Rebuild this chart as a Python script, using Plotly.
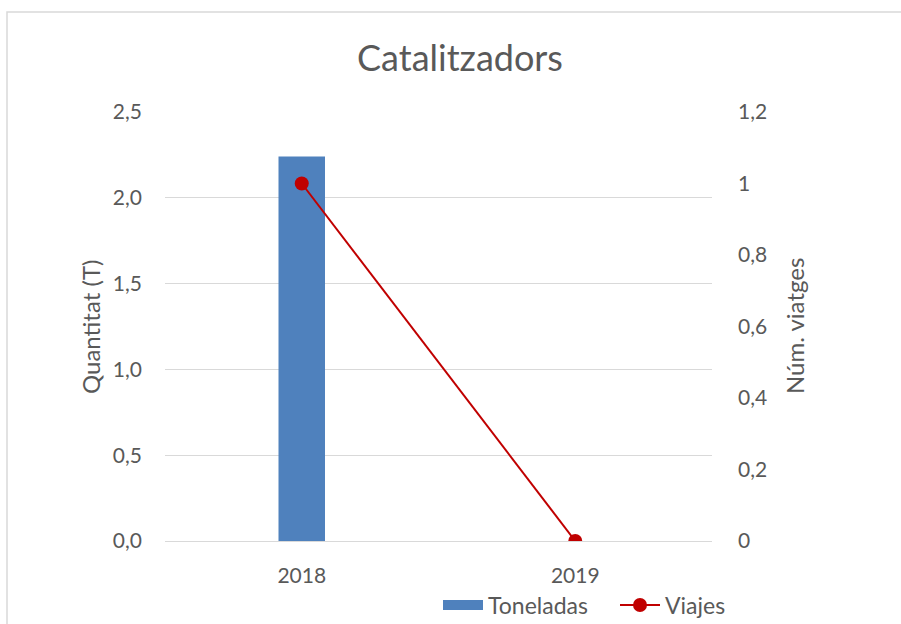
import plotly.graph_objects as go

# Chart data
years = ["2018", "2019"]
toneladas = [2.24, 0]
viajes = [1, 0]

left_ticks = [0, 0.5, 1.0, 1.5, 2.0, 2.5]
left_labels = ["0,0", "0,5", "1,0", "1,5", "2,0", "2,5"]
right_ticks = [0, 0.2, 0.4, 0.6, 0.8, 1.0, 1.2]
right_labels = ["0", "0,2", "0,4", "0,6", "0,8", "1", "1,2"]

FONT = "Lato, Calibri, 'Liberation Sans', sans-serif"
GREY = "#595959"
BLUE = "#4f81bd"
RED = "#c00000"

fig = go.Figure()
fig.add_trace(go.Bar(
    x=years, y=toneladas, name="Toneladas",
    marker=dict(color=BLUE, line=dict(width=0)),
    width=0.17, yaxis="y", showlegend=False,
))
# Legend proxy so the bar series shows a wide swatch
fig.add_trace(go.Scatter(
    x=[None], y=[None], name="Toneladas", mode="lines",
    line=dict(color=BLUE, width=13), yaxis="y",
))
fig.add_trace(go.Scatter(
    x=years, y=viajes, name="Viajes", mode="lines+markers",
    line=dict(color=RED, width=2),
    marker=dict(color=RED, size=14),
    yaxis="y2",
))

fig.update_layout(
    width=901, height=624,
    margin=dict(l=165, r=189, t=112, b=83),
    paper_bgcolor="white", plot_bgcolor="white",
    font=dict(family=FONT, color=GREY, size=21),
    title=dict(text="Catalitzadors", x=460 / 901, xanchor="center",
               y=1 - 58 / 624, yanchor="middle",
               font=dict(size=36, color=GREY, family=FONT)),
    showlegend=True,
    legend=dict(orientation="h", xref="container", yref="container",
                x=438 / 901, xanchor="left", y=1 - 605 / 624, yanchor="middle",
                font=dict(size=23, color=GREY), bgcolor="rgba(0,0,0,0)",
                itemwidth=40, entrywidth=122, traceorder="normal"),
    xaxis=dict(showgrid=False, showline=False, zeroline=False, ticks="",
               automargin=False,
               tickfont=dict(size=21, color=GREY), ticklabelstandoff=20),
    yaxis=dict(range=[0, 2.5], tickvals=left_ticks, ticktext=left_labels,
               showgrid=True, gridcolor="#d9d9d9", gridwidth=1,
               zeroline=True, zerolinecolor="#d9d9d9", zerolinewidth=1,
               showline=False, ticks="", ticklabelstandoff=22, automargin=False,
               tickfont=dict(size=21, color=GREY)),
    yaxis2=dict(range=[0, 1.2], tickvals=right_ticks, ticktext=right_labels,
                overlaying="y", side="right", showgrid=False, zeroline=False,
                showline=False, ticks="", ticklabelstandoff=25, automargin=False,
                tickfont=dict(size=21, color=GREY)),
    annotations=[
        dict(text="Quantitat (T)", xref="paper", yref="paper",
             x=(90 - 165) / 547, y=(541 - 327) / 429, textangle=-90,
             showarrow=False, xanchor="center", yanchor="middle",
             font=dict(size=24, color=GREY)),
        dict(text="Núm. viatges", xref="paper", yref="paper",
             x=(794 - 165) / 547, y=(541 - 326) / 429, textangle=-90,
             showarrow=False, xanchor="center", yanchor="middle",
             font=dict(size=24, color=GREY)),
    ],
    shapes=[
        dict(type="rect", xref="paper", yref="paper",
             x0=(7 - 165) / 547, x1=(960 - 165) / 547,
             y0=(541 - 680) / 429, y1=(541 - 12) / 429,
             line=dict(color="#d9d9d9", width=1.5), layer="below"),
    ],
)

fig.write_html("out.html")
